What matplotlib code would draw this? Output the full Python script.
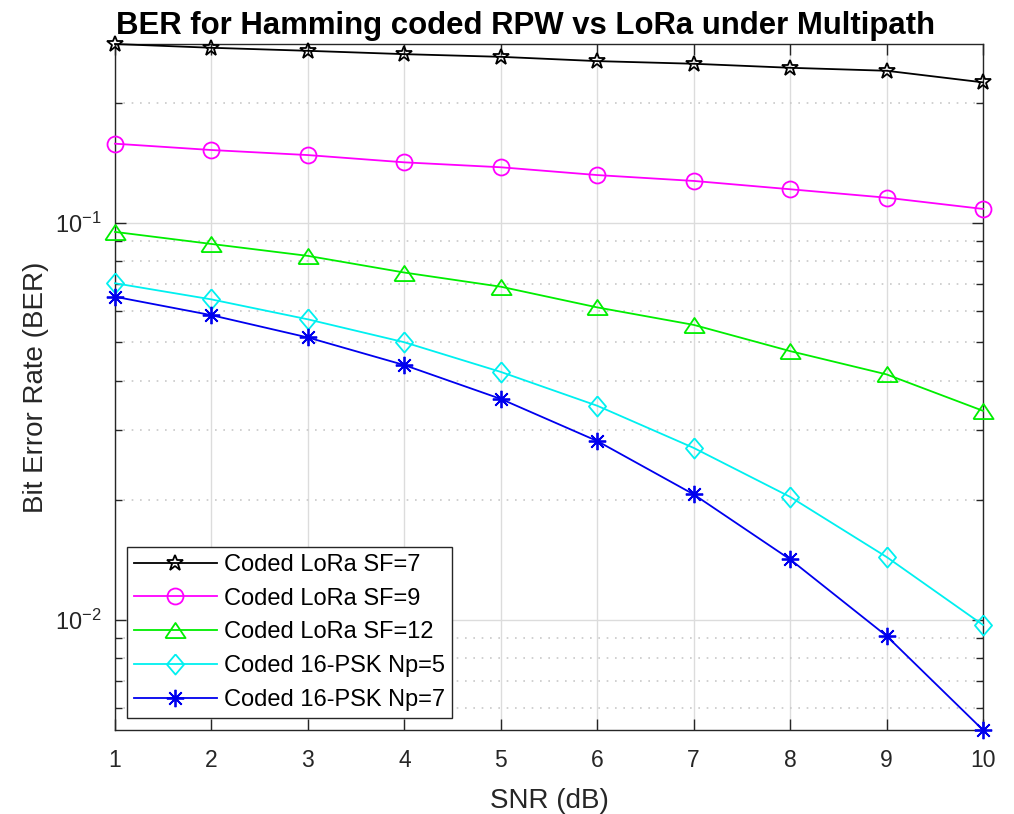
import numpy as np
import matplotlib
matplotlib.use("Agg")
import matplotlib.pyplot as plt
from matplotlib.ticker import LogLocator, FixedLocator, NullFormatter

plt.rcParams['font.family'] = ['Liberation Sans', 'DejaVu Sans']
plt.rcParams['mathtext.fontset'] = 'custom'
plt.rcParams['mathtext.rm'] = 'Liberation Sans'
plt.rcParams['mathtext.it'] = 'Liberation Sans:italic'
plt.rcParams['mathtext.bf'] = 'Liberation Sans:bold'

snr = [1, 2, 3, 4, 5, 6, 7, 8, 9, 10]
lora_sf7 = [0.2818, 0.2757, 0.2709, 0.2657, 0.2616, 0.2552, 0.2513, 0.2455, 0.2413, 0.2256]
lora_sf9 = [0.1581, 0.1524, 0.1480, 0.1419, 0.1379, 0.1318, 0.1274, 0.1214, 0.1156, 0.1083]
lora_sf12 = [0.0948, 0.0884, 0.0825, 0.0749, 0.0690, 0.0612, 0.0553, 0.0475, 0.0415, 0.0336]
psk_np5 = [0.0704, 0.0641, 0.0571, 0.0500, 0.0421, 0.0346, 0.0271, 0.0204, 0.0144, 0.00971]
psk_np7 = [0.0651, 0.0585, 0.0514, 0.0438, 0.0360, 0.0282, 0.0207, 0.0142, 0.00911, 0.00528]

labels = ['Coded LoRa SF=7', 'Coded LoRa SF=9', 'Coded LoRa SF=12',
          'Coded 16-PSK Np=5', 'Coded 16-PSK Np=7']
series = [lora_sf7, lora_sf9, lora_sf12, psk_np5, psk_np7]
colors = ['black', '#ff00ff', '#00ee00', '#00f0f0', '#0000ee']

# MATLAB-like marker shapes (wide triangle, tall diamond, 8-arm asterisk)
tri = [(-1, -0.75), (1, -0.75), (0, 0.75), (-1, -0.75)]
dia = [(0, 1), (0.85, 0), (0, -1), (-0.85, 0), (0, 1)]
markers = ['*', 'o', tri, dia, (8, 2, 0)]
msizes = [12, 11.5, 14.5, 14.5, 12.5]

fig = plt.figure(figsize=(10.14, 8.14), dpi=100)
ax = fig.add_axes([115/1014, 1-730/814, (983-115)/1014, (730-44)/814])

for y, lab, c, m, ms in zip(series, labels, colors, markers, msizes):
    ax.semilogy(snr, y, color=c, lw=1.3, marker=m, ms=ms, mfc='none', mec=c,
                mew=1.3, label=lab, clip_on=False, zorder=3)

allv = np.concatenate([np.array(s) for s in series])
ax.set_xlim(1, 10)
ax.set_ylim(allv.min(), allv.max())
ax.set_xticks(snr)

ax.yaxis.set_major_locator(FixedLocator([1e-2, 1e-1]))
ax.yaxis.set_minor_locator(LogLocator(base=10, subs=np.arange(2, 10)))
ax.yaxis.set_minor_formatter(NullFormatter())

ax.grid(which='major', color='#dcdcdc', lw=1.0, ls='-')
ax.grid(which='minor', axis='y', color='#c8c8c8', lw=1.2, ls=(0, (1, 4)))
ax.set_axisbelow(True)

ax.tick_params(which='both', direction='in', top=True, right=True, colors='#262626',
               labelsize=16.5, length=8, width=1.0, pad=14)
ax.tick_params(axis='y', which='both', pad=10, labelsize=17)
ax.tick_params(which='minor', length=5)
for sp in ax.spines.values():
    sp.set_color('#262626')
    sp.set_linewidth(1.0)

ax.set_xlabel('SNR (dB)', fontsize=20, color='#262626', labelpad=11)
ax.set_ylabel('Bit Error Rate (BER)', fontsize=20, color='#262626', labelpad=4)
ax.set_title('BER for Hamming coded RPW vs LoRa under Multipath', fontsize=22.4,
             fontweight='bold', pad=7, x=(526 - 115) / 868)

leg = ax.legend(loc='lower left', fontsize=17, fancybox=False, framealpha=1,
                edgecolor='#262626', borderpad=0.3, labelspacing=0.5,
                handlelength=3.5, handletextpad=0.3, borderaxespad=0.5)
leg.get_frame().set_linewidth(1.0)
leg.set_zorder(5)

fig.savefig('out.png', dpi=100)
